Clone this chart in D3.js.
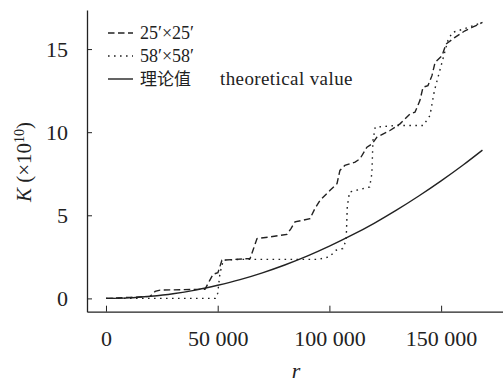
<!DOCTYPE html>
<html>
<head>
<meta charset="utf-8">
<script src="https://cdn.jsdelivr.net/npm/d3@7"></script>
<style>
  body { margin: 0; background: #fff; }
  svg { display: block; }
  text { font-family: "Liberation Serif", "Times New Roman", serif; fill: #222; }
  .cjk { font-family: "Noto Sans CJK SC", sans-serif; }
</style>
</head>
<body>
<svg width="503" height="383"></svg>
<script>
// r values (x) and K values (×10^10)
const r25 = [0, 10700, 19700, 22000, 24200, 44300, 46500, 47900, 50100, 51900, 64500, 65800, 67600, 73400, 81000, 82800, 84600, 91300, 93500, 95800, 100300, 103400, 104700, 106900, 111500, 113700, 116800, 119100, 121300, 127100, 131600, 136100, 138300, 140500, 141900, 144100, 145900, 147300, 150400, 152200, 156200, 160700, 163800, 168500];
const k25 = [0, 0.06, 0.12, 0.42, 0.5, 0.55, 1.1, 1.45, 1.55, 2.3, 2.4, 2.9, 3.6, 3.7, 3.85, 4.2, 4.6, 4.8, 5.4, 5.9, 6.5, 6.9, 7.7, 8.0, 8.2, 8.4, 9.1, 9.3, 9.7, 10.1, 10.5, 11.1, 11.2, 11.9, 12.7, 12.8, 13.4, 14.2, 14.6, 15.3, 15.7, 16.1, 16.3, 16.6];

const r58 = [0, 49000, 50000, 51000, 52500, 60000, 80000, 95000, 100000, 103000, 106000, 107500, 108000, 109000, 115000, 118000, 119000, 119500, 120500, 130000, 142000, 145000, 147000, 149000, 151000, 153000, 155000, 160000, 168500];
const k58 = [0, 0, 0.3, 1.5, 2.3, 2.35, 2.35, 2.35, 2.5, 2.9, 3.0, 3.5, 5.5, 6.4, 6.6, 6.7, 7.5, 9.5, 10.3, 10.4, 10.4, 11.0, 12.5, 13.5, 14.5, 15.5, 16.0, 16.2, 16.6];

const rTheory = [0, 10000, 20000, 30000, 40000, 50000, 60000, 70000, 80000, 90000, 100000, 110000, 120000, 130000, 140000, 150000, 160000, 168500];
const kTheory = [0, 0.03, 0.13, 0.28, 0.5, 0.79, 1.13, 1.54, 2.01, 2.54, 3.14, 3.8, 4.52, 5.31, 6.16, 7.07, 8.04, 8.92];

const xTicks = [0, 50000, 100000, 150000];
const yTicks = [0, 5, 10, 15];

const legendItems = [
  { label: "25′×25′", dash: "6.5,3.5" },
  { label: "58′×58′", dash: "1.6,4.4" },
  { label: "理论值", extra: "theoretical value", dash: null }
];

const svg = d3.select("svg");

const x = d3.scaleLinear().domain([-8500, 177700]).range([87, 503]);
const y = d3.scaleLinear().domain([-0.8, 17.35]).range([311.7, 10]);

const fmt = d3.formatLocale({ decimal: ".", thousands: " ", grouping: [3], currency: ["", ""] }).format(",d");

// axes
const xAxis = svg.append("g")
    .attr("transform", `translate(0,${y(-0.8)})`)
    .call(d3.axisBottom(x).tickValues(xTicks).tickSizeInner(-6).tickSizeOuter(0).tickPadding(19).tickFormat(fmt));
const yAxis = svg.append("g")
    .attr("transform", `translate(${x(-8500)},0)`)
    .call(d3.axisLeft(y).tickValues(yTicks).tickSizeInner(-5).tickSizeOuter(0).tickPadding(19));

[xAxis, yAxis].forEach(a => {
  a.attr("font-family", null);
  a.select(".domain").attr("stroke", "#222").attr("stroke-width", 1.3);
  a.selectAll(".tick line").attr("stroke", "#222").attr("stroke-width", 1);
  a.selectAll(".tick text").attr("font-size", 22).attr("fill", "#222");
});

// axis titles
svg.append("text")
    .attr("x", 296).attr("y", 378)
    .attr("text-anchor", "middle")
    .attr("font-size", 22)
    .attr("font-style", "italic")
    .text("r");

const yt = svg.append("text")
    .attr("transform", "translate(31,162) rotate(-90)")
    .attr("text-anchor", "middle")
    .attr("font-size", 21);
yt.append("tspan").attr("font-style", "italic").text("K");
yt.append("tspan").text(" (×10");
yt.append("tspan").attr("font-size", 14).attr("dy", -7).text("10");
yt.append("tspan").attr("dy", 7).text(")");

// lines
const line = d3.line().x(d => x(d[0])).y(d => y(d[1]));
const smooth = d3.line().x(d => x(d[0])).y(d => y(d[1])).curve(d3.curveMonotoneX);

svg.append("path")
    .datum(d3.zip(rTheory, kTheory))
    .attr("d", smooth)
    .attr("fill", "none").attr("stroke", "#222").attr("stroke-width", 1.4);

svg.append("path")
    .datum(d3.zip(r58, k58))
    .attr("d", line)
    .attr("fill", "none").attr("stroke", "#222").attr("stroke-width", 1.4)
    .attr("stroke-dasharray", legendItems[1].dash);

svg.append("path")
    .datum(d3.zip(r25, k25))
    .attr("d", line)
    .attr("fill", "none").attr("stroke", "#222").attr("stroke-width", 1.4)
    .attr("stroke-dasharray", legendItems[0].dash);

// legend
const legend = svg.append("g").attr("transform", "translate(108,33)");
legendItems.forEach((d, i) => {
  const g = legend.append("g").attr("transform", `translate(0,${i * 23})`);
  g.append("line")
      .attr("x1", 0).attr("x2", 25).attr("y1", 0).attr("y2", 0)
      .attr("stroke", "#222").attr("stroke-width", 1.4)
      .attr("stroke-dasharray", d.dash);
  g.append("text")
      .attr("class", i === 2 ? "cjk" : null)
      .attr("x", 32).attr("y", i === 2 ? 6 : 6)
      .attr("font-size", i === 2 ? 17 : 18)
      .text(d.label);
  if (d.extra) {
    g.append("text")
        .attr("x", 112).attr("y", 6)
        .attr("font-size", 19)
        .attr("letter-spacing", 0.4)
        .text(d.extra);
  }
});
</script>
</body>
</html>
